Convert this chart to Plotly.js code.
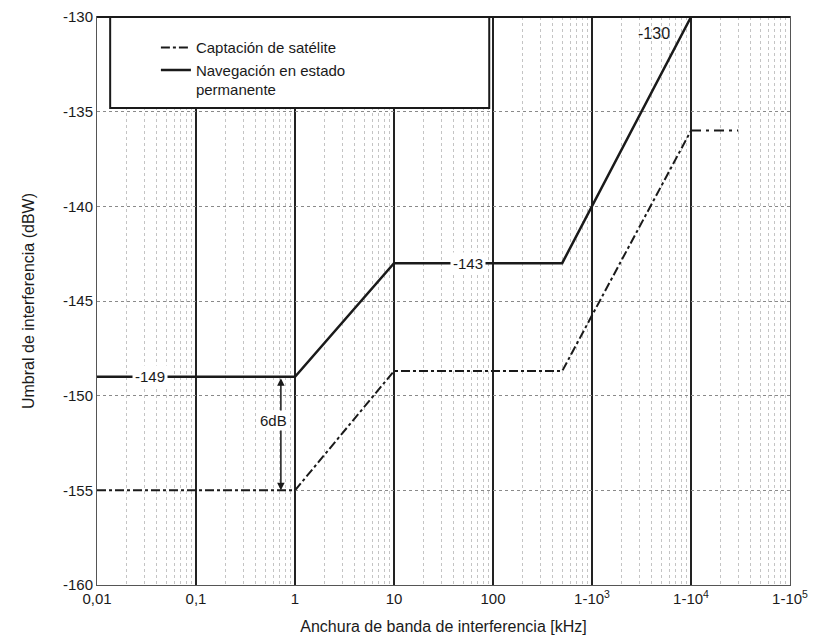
<!DOCTYPE html>
<html>
<head>
<meta charset="utf-8">
<script src="https://cdn.plot.ly/plotly-3.0.1.min.js"></script>
<style>
  html, body { margin: 0; padding: 0; background: #fff; }
  #chart { width: 817px; height: 642px; }
</style>
</head>
<body>
<div id="chart"></div>
<script>
// Data (bandwidth in kHz, threshold in dBW)
const navX = [0.01, 1, 10, 500, 10000];
const navY = [-149, -149, -143, -143, -130];
const satX = [0.01, 1, 10, 500, 10000];
const satY = [-155, -155, -148.7, -148.7, -136];
const satTailX = [10000, 30000];
const satTailY = [-136, -136];

const seriesNames = ["Captación de satélite", "Navegación en estado<br>permanente"];

const xTickVals = [0.01, 0.1, 1, 10, 100, 1000, 10000, 100000];
const xTickText = ["0,01", "0,1", "1", "10", "100", "1-10<sup>3</sup>", "1-10<sup>4</sup>", "1-10<sup>5</sup>"];
const yTickVals = [-160, -155, -150, -145, -140, -135, -130];
const yTickText = ["-160", "-155", "-150", "-145", "-140", "-135", "-130"];
const minorMultipliers = [2, 3, 4, 5, 6, 7, 8, 9];

// Annotation values
const labelNav1 = {x: 0.034, y: -149, text: "-149"};
const labelNav2 = {x: 56, y: -143, text: "-143"};
const labelNav3 = {x: 4200, y: -130.3, text: "-130"};
const arrowX = 0.72;
const arrowTop = -149;
const arrowBottom = -155;
const arrowLabel = {x: 0.6, y: -151.3, text: "6dB"};

const minorVals = [];
xTickVals.slice(0, -1).forEach(d => minorMultipliers.forEach(m => minorVals.push(d * m)));

const fontFam = 'Liberation Sans, Arial, sans-serif';
const ink = '#1a1a1a';

const traces = [
  {x: satX, y: satY, mode: 'lines', name: seriesNames[0],
   line: {color: ink, width: 2, dash: 'dashdot'}, cliponaxis: false},
  {x: navX, y: navY, mode: 'lines', name: seriesNames[1],
   line: {color: ink, width: 2.5}, cliponaxis: false},
  {x: satTailX, y: satTailY, mode: 'lines', showlegend: false,
   line: {color: ink, width: 2, dash: '10px,5px,3px,5px'}}
];

const L = v => Math.log10(v);

const layout = {
  width: 817, height: 642,
  margin: {l: 97, r: 27, t: 17, b: 57},
  paper_bgcolor: '#fff', plot_bgcolor: '#fff',
  font: {family: fontFam, color: ink, size: 15},
  showlegend: true,
  legend: {
    x: 0.085, y: 0.975, xanchor: 'left', yanchor: 'top',
    bgcolor: 'rgba(0,0,0,0)', borderwidth: 0,
    font: {family: fontFam, size: 15, color: ink},
    valign: 'top', tracegroupgap: 8
  },
  xaxis: {
    type: 'log', range: [-2, 5],
    tickmode: 'array', tickvals: xTickVals, ticktext: xTickText,
    ticks: '', showgrid: true, gridcolor: '#222', gridwidth: 2,
    minor: {tickmode: 'array', tickvals: minorVals, ticks: '', showgrid: true,
            gridcolor: '#c4c4c4', griddash: 'dot', gridwidth: 1},
    showline: true, mirror: true, linecolor: '#555', linewidth: 1,
    zeroline: false,
    tickfont: {size: 15, color: ink},
    title: {text: 'Anchura de banda de interferencia [kHz]', font: {size: 16, color: ink}, standoff: 14}
  },
  yaxis: {
    range: [-160, -130],
    tickmode: 'array', tickvals: yTickVals, ticktext: yTickText,
    ticks: '', showgrid: true, gridcolor: '#8a8a8a', griddash: 'dot', gridwidth: 1,
    showline: true, mirror: true, linecolor: '#555', linewidth: 1,
    zeroline: false,
    tickfont: {size: 15, color: ink},
    title: {text: 'Umbral de interferencia (dBW)', font: {size: 16, color: ink}, standoff: 24}
  },
  shapes: [
    // legend box
    {type: 'rect', xref: 'paper', yref: 'paper', x0: 0.019, x1: 0.566, y0: 0.84, y1: 1,
     fillcolor: '#fff', line: {color: ink, width: 2}, layer: 'above'},
    // top border emphasised
    {type: 'line', xref: 'paper', yref: 'paper', x0: 0, x1: 1, y0: 1, y1: 1,
     line: {color: ink, width: 2}, layer: 'above'}
  ],
  annotations: [
    {x: L(labelNav1.x), y: labelNav1.y, xref: 'x', yref: 'y', text: labelNav1.text, showarrow: false,
     bgcolor: '#fff', font: {size: 15, color: ink}, borderpad: 2},
    {x: L(labelNav2.x), y: labelNav2.y, xref: 'x', yref: 'y', text: labelNav2.text, showarrow: false,
     bgcolor: '#fff', font: {size: 15, color: ink}, borderpad: 2},
    {x: L(labelNav3.x), y: labelNav3.y, xref: 'x', yref: 'y', text: labelNav3.text, showarrow: false,
     font: {size: 16, color: ink}, yanchor: 'top'},
    {x: L(arrowX), y: arrowBottom, ax: L(arrowX), ay: arrowTop, xref: 'x', yref: 'y', axref: 'x', ayref: 'y',
     text: '', showarrow: true, arrowhead: 2, arrowside: 'end+start', arrowsize: 1, arrowwidth: 1.5, arrowcolor: ink,
     standoff: 0, startstandoff: 0},
    {x: L(arrowLabel.x), y: arrowLabel.y, xref: 'x', yref: 'y', text: arrowLabel.text, showarrow: false,
     bgcolor: '#fff', font: {size: 15, color: ink}, borderpad: 1}
  ]
};

Plotly.newPlot('chart', traces, layout, {displayModeBar: false, staticPlot: true});
</script>
</body>
</html>
